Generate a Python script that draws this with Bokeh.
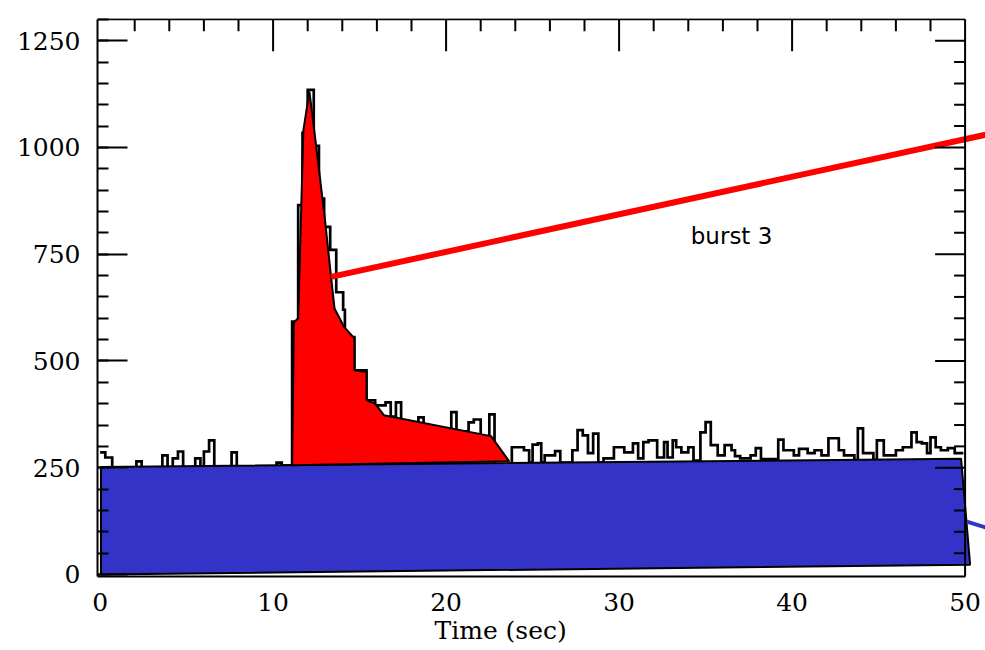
from bokeh.plotting import figure
from bokeh.models import Range1d, SingleIntervalTicker, Label, Title
from bokeh.embed import file_html
from bokeh.resources import INLINE

# ---------------- data ----------------
# light-curve histogram: bin edges (s) and counts
bin_edges = [0.0, 0.3, 0.7, 2.1, 2.4, 3.6, 3.9, 4.2, 4.5, 4.8,
             5.5, 5.8, 6.0, 6.3, 6.6, 7.6, 7.9, 10.2, 10.5, 11.1,
             11.45, 11.7, 12.0, 12.35, 12.65, 12.95, 13.3, 13.65, 14.05, 14.15,
             14.7, 15.4, 15.9, 16.5, 16.8, 17.1, 17.4, 18.4, 18.7, 20.3,
             20.6, 21.3, 21.6, 22.0, 22.5, 22.8, 23.8, 24.5, 24.8, 25.0,
             25.3, 25.5, 25.7, 26.3, 26.6, 27.3, 27.6, 27.9, 28.2, 28.5,
             28.8, 29.1, 29.7, 30.3, 30.8, 31.1, 31.4, 31.7, 32.2, 32.6,
             32.8, 33.1, 33.3, 33.6, 34.0, 34.3, 34.7, 35.0, 35.3, 35.7,
             36.1, 36.5, 36.7, 37.0, 37.6, 37.9, 38.2, 39.2, 39.5, 40.1,
             40.4, 40.9, 41.3, 41.7, 42.1, 42.7, 43.0, 43.6, 43.8, 44.1,
             44.7, 44.9, 45.3, 46.0, 46.4, 46.9, 47.2, 47.5, 47.8, 48.0,
             48.3, 48.6, 49.0, 49.4, 49.9]
counts = [286, 274, 245, 265, 248, 279, 250, 272, 288, 250,
          272, 252, 288, 314, 252, 286, 252, 262, 255, 592,
          865, 1034, 1135, 1004, 880, 814, 760, 661, 620, 556,
          478, 408, 396, 403, 370, 403, 355, 368, 340, 380,
          335, 356, 363, 320, 375, 255, 298, 291, 262, 304,
          307, 262, 279, 289, 262, 291, 338, 326, 284, 330,
          262, 272, 298, 286, 307, 272, 310, 314, 274, 310,
          274, 314, 298, 286, 298, 267, 333, 357, 303, 279,
          303, 291, 277, 272, 279, 296, 270, 316, 291, 279,
          294, 284, 291, 279, 319, 291, 279, 268, 342, 284,
          268, 314, 279, 291, 298, 333, 310, 307, 284, 321,
          298, 291, 296, 284]

# burst region (red) outline
burst_t = [11.1, 11.2, 11.45, 11.75, 12.1, 12.5, 13.0, 13.35, 13.55, 14.1,
           14.7, 14.7, 15.4, 15.4, 15.9, 16.4, 22.6, 23.65]
burst_c = [256, 590, 600, 1040, 1131, 1000, 830, 697, 623, 580,
           553, 478, 474, 408, 400, 373, 324, 265]

# background region (blue) outline
bkg_t = [0.05, 0.05, 49.77, 50.29]
bkg_c = [0, 252, 271, 23]

# pointer lines
burst_line_t = [13.35, 51.2]
burst_line_c = [697, 1030]
bkg_line_t = [50.1, 51.2]
bkg_line_c = [124, 110]

label_text = "burst 3"
label_t, label_c = 36.5, 793

x_ticks = [0, 10, 20, 30, 40, 50]
y_major = [0, 250, 500, 750, 1000, 1250]

# ---------------- figure ----------------
W, H = 985, 650
BL, BR, BT, BB = 97, 0, 18, 74
X0 = -0.15
Y0, Y1 = -4.7, 1302
fw, fh = W - BL - BR, H - BT - BB
sx = 17.3                       # px per second (from the reference axis)
X1 = X0 + fw / sx
sy = fh / (Y1 - Y0)             # px per count

p = figure(width=W, height=H, output_backend="svg", toolbar_location=None,
           x_range=Range1d(X0, X1), y_range=Range1d(Y0, Y1),
           min_border_left=BL, min_border_right=BR, min_border_top=BT,
           min_border_bottom=BB)
p.grid.visible = False
p.outline_line_color = None
p.background_fill_color = "white"
p.border_fill_color = "white"

FONT = "DejaVu Serif"

ya = p.yaxis[0]
ya.ticker = SingleIntervalTicker(interval=250, num_minor_ticks=5)
ya.bounds = (Y0, 1300)
ya.axis_line_width = 2
ya.major_tick_in, ya.major_tick_out = 30, 0
ya.minor_tick_in, ya.minor_tick_out = 11, 0
ya.major_tick_line_width = 2
ya.minor_tick_line_width = 2
ya.major_label_text_font = FONT
ya.major_label_text_font_size = "25px"
ya.major_label_text_color = "black"
ya.major_label_standoff = 17

xa = p.xaxis[0]
xa.ticker = SingleIntervalTicker(interval=10, num_minor_ticks=0)
xa.bounds = (X0, 50)
xa.axis_line_width = 2
xa.major_tick_in, xa.major_tick_out = 0, 0
xa.minor_tick_in, xa.minor_tick_out = 0, 0
xa.major_label_text_font = FONT
xa.major_label_text_font_size = "25px"
xa.major_label_text_color = "black"
xa.major_label_standoff = 16

# x-axis title, placed under the tick labels
p.add_layout(Title(text="Time (sec)", align="left", offset=337, standoff=0,
                   text_font=FONT, text_font_size="25px", text_font_style="normal",
                   text_color="black"), "below")

# histogram step outline
hx, hy = [], []
for i in range(min(len(counts), len(bin_edges) - 1)):
    hx += [bin_edges[i], bin_edges[i + 1]]
    hy += [counts[i], counts[i]]
p.line(hx, hy, line_color="black", line_width=2.7, line_join="miter")

# background and burst polygons
p.patch(bkg_t, bkg_c, fill_color="#3333c8", line_color="black", line_width=2)
p.patch(burst_t, burst_c, fill_color="#ff0000", line_color="black", line_width=2)

# pointer lines
p.line(burst_line_t, burst_line_c, line_color="#ff0000", line_width=6)
p.line(bkg_line_t, bkg_line_c, line_color="#3333c8", line_width=4)

# top and right frame lines with inward ticks
top_y, right_x = 1300, 50
p.segment(x0=[X0], y0=[top_y], x1=[right_x], y1=[top_y], line_color="black", line_width=2)
p.segment(x0=[right_x], y0=[Y0], x1=[right_x], y1=[top_y], line_color="black", line_width=2)

top_major = [t for t in x_ticks if 0 < t < 50]
top_minor = [t for t in range(2, 50, 2) if t % 10 != 0]
p.segment(x0=top_major, y0=[top_y] * len(top_major), x1=top_major,
          y1=[top_y - 32 / sy] * len(top_major), line_color="black", line_width=2)
p.segment(x0=top_minor, y0=[top_y] * len(top_minor), x1=top_minor,
          y1=[top_y - 12 / sy] * len(top_minor), line_color="black", line_width=2)

right_major = [c for c in y_major if c > 0]
right_minor = [c for c in range(50, 1300, 50) if c % 250 != 0]
p.segment(x0=[right_x] * len(right_major), y0=right_major,
          x1=[right_x - 30 / sx] * len(right_major), y1=right_major,
          line_color="black", line_width=2)
p.segment(x0=[right_x] * len(right_minor), y0=right_minor,
          x1=[right_x - 11 / sx] * len(right_minor), y1=right_minor,
          line_color="black", line_width=2)

# burst label
p.add_layout(Label(x=label_t, y=label_c, text=label_text, text_font="DejaVu Sans",
                   text_font_size="23px", text_align="center", text_baseline="middle",
                   text_color="black"))

open("out.html", "w").write(file_html(p, INLINE))
